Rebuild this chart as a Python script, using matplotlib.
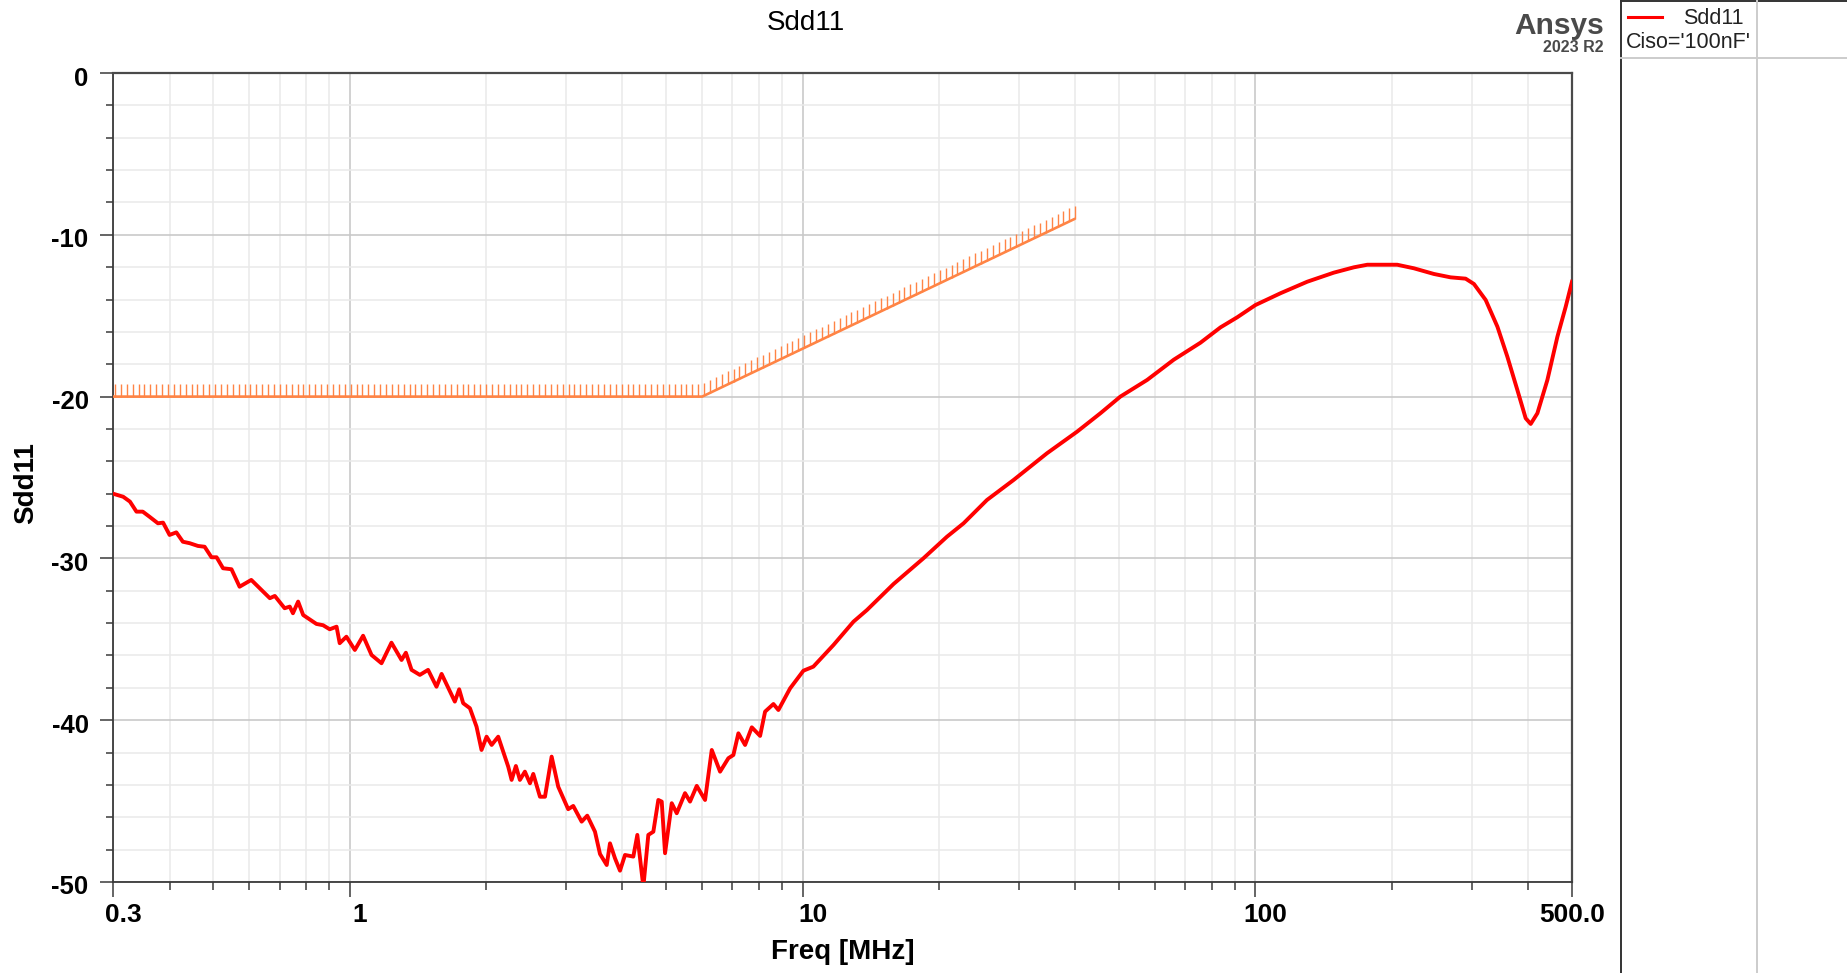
import numpy as np
import matplotlib
matplotlib.use('Agg')
import matplotlib.pyplot as plt
from matplotlib.lines import Line2D
from matplotlib.transforms import ScaledTranslation

plt.rcParams['font.family'] = ['Liberation Sans', 'DejaVu Sans']

# ---------------- data ----------------
freq_mhz = [0.300, 0.316, 0.327, 0.338, 0.349, 0.361, 0.377, 0.387, 0.400, 0.414,
            0.428, 0.443, 0.462, 0.478, 0.495, 0.508, 0.525, 0.548, 0.571, 0.606,
            0.666, 0.683, 0.718, 0.737, 0.749, 0.769, 0.789, 0.844, 0.873, 0.903,
            0.935, 0.950, 0.983, 1.026, 1.070, 1.117, 1.175, 1.236, 1.301, 1.330,
            1.369, 1.428, 1.489, 1.554, 1.595, 1.706, 1.744, 1.780, 1.842, 1.905,
            1.954, 2.005, 2.057, 2.127, 2.238, 2.277, 2.327, 2.375, 2.436, 2.500,
            2.542, 2.630, 2.698, 2.791, 2.886, 3.036, 3.115, 3.251, 3.345, 3.479,
            3.569, 3.693, 3.755, 3.851, 3.951, 4.053, 4.228, 4.315, 4.449, 4.563,
            4.681, 4.801, 4.885, 4.968, 5.140, 5.272, 5.499, 5.641, 5.837, 6.089,
            6.300, 6.572, 6.855, 7.032, 7.213, 7.463, 7.722, 8.055, 8.262, 8.620,
            8.841, 9.384, 10.04, 10.56, 11.70, 12.95, 13.87, 15.88, 18.49, 20.83,
            22.67, 25.53, 29.24, 31.30, 34.65, 40.36, 45.45, 50.31, 57.65, 66.0,
            75.59, 83.71, 91.12, 100.0, 113.6, 130.1, 148.9, 164.9, 176.6, 205.6,
            223.8, 247.7, 269.7, 291.1, 303.7, 322.4, 342.2, 359.9, 378.7, 395.1,
            405.3, 419.3, 441.2, 464.2, 484.3, 500.0]
sdd11_db = [-26.00, -26.19, -26.49, -27.11, -27.11, -27.42, -27.83, -27.79, -28.55, -28.39,
            -28.97, -29.06, -29.23, -29.28, -29.93, -29.93, -30.61, -30.67, -31.75, -31.33,
            -32.46, -32.32, -33.08, -32.98, -33.39, -32.67, -33.50, -34.05, -34.13, -34.38,
            -34.22, -35.24, -34.84, -35.66, -34.78, -35.97, -36.48, -35.21, -36.28, -35.83,
            -36.89, -37.20, -36.89, -37.93, -37.14, -38.85, -38.09, -38.95, -39.26, -40.40,
            -41.84, -41.02, -41.53, -41.02, -42.87, -43.69, -42.83, -43.69, -43.18, -43.90,
            -43.32, -44.73, -44.73, -42.25, -44.11, -45.50, -45.30, -46.27, -45.90, -46.89,
            -48.27, -48.95, -47.61, -48.53, -49.30, -48.33, -48.43, -47.09, -50.30, -47.09,
            -46.89, -44.93, -45.03, -48.22, -45.13, -45.75, -44.51, -45.03, -44.06, -44.93,
            -41.84, -43.18, -42.35, -42.15, -40.81, -41.53, -40.44, -40.97, -39.47, -39.00,
            -39.37, -38.03, -36.94, -36.69, -35.35, -33.91, -33.19, -31.58, -29.99, -28.66,
            -27.83, -26.39, -25.15, -24.49, -23.50, -22.17, -21.03, -20.00, -18.97, -17.72,
            -16.67, -15.72, -15.10, -14.34, -13.61, -12.90, -12.34, -12.01, -11.85, -11.85,
            -12.07, -12.42, -12.63, -12.71, -13.04, -14.03, -15.68, -17.53, -19.59, -21.34,
            -21.69, -21.03, -18.97, -16.30, -14.44, -12.90]

limit_freq = [0.3, 6.0, 40.0]
limit_db = [-20.0, -20.0, -9.0]

x_major = [0.3, 1, 10, 100, 500]
x_major_labels = ['0.3', '1', '10', '100', '500.0']
x_minor = [0.4, 0.5, 0.6, 0.7, 0.8, 0.9,
           2, 3, 4, 5, 6, 7, 8, 9,
           20, 30, 40, 50, 60, 70, 80, 90,
           200, 300, 400]
y_major = [0, -10, -20, -30, -40, -50]
y_major_labels = ['0', '-10', '-20', '-30', '-40', '-50']

title_text = 'Sdd11'
x_label = 'Freq [MHz]'
y_label = 'Sdd11'
legend_name = 'Sdd11'
legend_param = "Ciso='100nF'"

# ---------------- figure ----------------
W, H = 1847, 973
fig = plt.figure(figsize=(W / 100, H / 100), dpi=100)
fig.patch.set_facecolor('white')

ax_left, ax_right, ax_top, ax_bot = 113, 1572, 73, 882
ax = fig.add_axes([ax_left / W, 1 - ax_bot / H, (ax_right - ax_left) / W, (ax_bot - ax_top) / H])
ax.set_xscale('log')
ax.set_xlim(0.3, 500)
ax.set_ylim(-50, 0)

RED = '#ff0000'
ORANGE = '#ff8445'
AXC = '#3a3a3a'

# grid
ax.set_axisbelow(True)
ax.set_xticks(x_major)
ax.set_xticks(x_minor, minor=True)
ax.set_yticks(y_major)
ax.set_yticks(np.arange(-48, 0, 2), minor=True)
ax.set_xticklabels(x_major_labels)
ax.set_xticklabels([], minor=True)
ax.set_yticklabels(y_major_labels)
ax.grid(which='minor', color='#e9e9e9', lw=1.1)
ax.grid(which='major', color='#c9c9c9', lw=1.2)

# limit line with hatch ticks
ax.plot(limit_freq, limit_db, color=ORANGE, lw=1.9, zorder=3, solid_capstyle='butt')
hx = np.logspace(np.log10(0.303), np.log10(40.0), 164)
hy = np.interp(np.log10(hx), np.log10(limit_freq), limit_db)
ax.vlines(hx, hy, hy + 0.8, color=ORANGE, lw=1.0, zorder=3)

# trace
ax.plot(freq_mhz, sdd11_db, color=RED, lw=2.8, zorder=4, solid_joinstyle='round')

# spines & ticks
for s in ['left', 'bottom']:
    ax.spines[s].set_color(AXC)
    ax.spines[s].set_linewidth(1.3)
for s in ['top', 'right']:
    ax.spines[s].set_color('#4a4a4a')
    ax.spines[s].set_linewidth(1.6)

ax.tick_params(axis='y', which='major', direction='out', length=9.4, width=1.1, color=AXC,
               labelsize=18.5, pad=8.2, labelcolor='black')
ax.tick_params(axis='y', which='minor', direction='out', length=5.0, width=1.1, color=AXC)
ax.tick_params(axis='x', which='major', direction='out', length=10.8, width=1.1, color=AXC,
               labelsize=19, pad=4.5, labelcolor='black')
ax.tick_params(axis='x', which='minor', direction='out', length=5.8, width=1.1, color=AXC)

xt = ax.xaxis.get_major_ticks()
for i, t in enumerate(xt):
    t.label1.set_fontweight('bold')
    if i < len(xt) - 1:
        t.label1.set_transform(t.label1.get_transform() +
                               ScaledTranslation(0.10, 0, fig.dpi_scale_trans))
for t in ax.yaxis.get_major_ticks():
    t.label1.set_fontweight('bold')
    t.label1.set_transform(t.label1.get_transform() +
                           ScaledTranslation(0, -0.03, fig.dpi_scale_trans))

# axis labels
ax.set_xlabel(x_label, fontsize=20, fontweight='bold')
ax.xaxis.set_label_coords(0.5, -(952 - ax_bot) / (ax_bot - ax_top))
ax.xaxis.label.set_va('center')
ax.set_ylabel(y_label, fontsize=20, fontweight='bold')
ax.yaxis.set_label_coords(-(ax_left - 26) / (ax_right - ax_left), (ax_bot - 483) / (ax_bot - ax_top))
ax.yaxis.label.set_va('center')

# title
fig.text(806 / W, 1 - 23 / H, title_text, ha='center', va='center', fontsize=20, color='black')

# Ansys logo text
fig.text(1604 / W, 1 - 26 / H, 'Ansys', ha='right', va='center', fontsize=21.5,
         fontweight='bold', color='#4a4a4a')
fig.text(1604 / W, 1 - 48 / H, '2023 R2', ha='right', va='center', fontsize=11.5,
         fontweight='bold', color='#4a4a4a')

# legend panel
px = 1621 / W
fig.add_artist(Line2D([px, px], [0, 1], transform=fig.transFigure, color='#333333', lw=1.4))
fig.add_artist(Line2D([px, 1], [1 - 1 / H, 1 - 1 / H], transform=fig.transFigure, color='#333333', lw=1.4))
fig.add_artist(Line2D([px, 1], [1 - 58 / H, 1 - 58 / H], transform=fig.transFigure, color='#cccccc', lw=1.4))
fig.add_artist(Line2D([1757 / W, 1757 / W], [0, 1], transform=fig.transFigure, color='#cccccc', lw=1.4))
fig.add_artist(Line2D([1628 / W, 1662 / W], [1 - 17 / H, 1 - 17 / H], transform=fig.transFigure,
                      color=RED, lw=2.2))
fig.text(1713 / W, 1 - 18 / H, legend_name, ha='center', va='center', fontsize=15.5, color='#222222')
fig.text(1626 / W, 1 - 43 / H, legend_param, ha='left', va='center', fontsize=15.5, color='#222222')

fig.savefig('out.png', dpi=100, facecolor='white')
